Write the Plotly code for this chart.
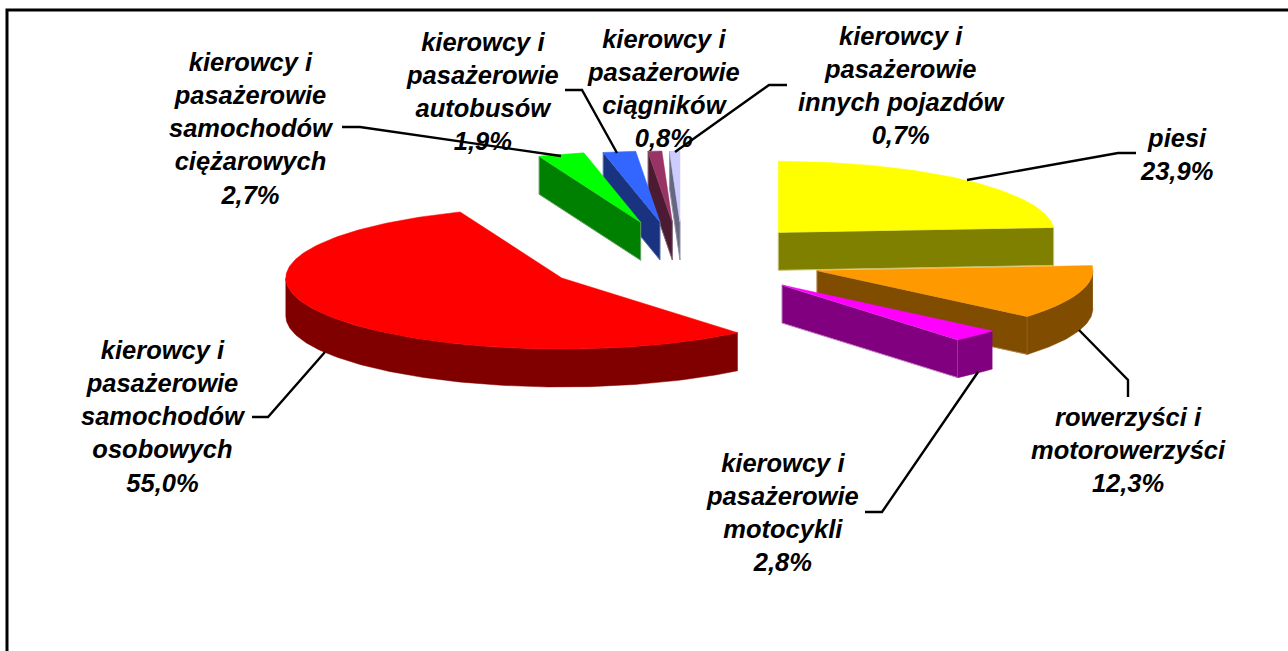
import numpy as np
import plotly.graph_objects as go

# ---- data ----
categories = ["piesi", "rowerzyści i motorowerzyści", "kierowcy i pasażerowie motocykli",
              "kierowcy i pasażerowie samochodów osobowych", "kierowcy i pasażerowie samochodów ciężarowych",
              "kierowcy i pasażerowie autobusów", "kierowcy i pasażerowie ciągników",
              "kierowcy i pasażerowie innych pojazdów"]
values = [23.9, 12.3, 2.8, 55.0, 2.7, 1.9, 0.8, 0.7]
value_labels = ["23,9%", "12,3%", "2,8%", "55,0%", "2,7%", "1,9%", "0,8%", "0,7%"]
label_lines = [
    ["piesi"],
    ["rowerzyści i", "motorowerzyści"],
    ["kierowcy i", "pasażerowie", "motocykli"],
    ["kierowcy i", "pasażerowie", "samochodów", "osobowych"],
    ["kierowcy i", "pasażerowie", "samochodów", "ciężarowych"],
    ["kierowcy i", "pasażerowie", "autobusów"],
    ["kierowcy i", "pasażerowie", "ciągników"],
    ["kierowcy i", "pasażerowie", "innych pojazdów"],
]

# ---- styling / layout constants (pixels of the 1288x651 page) ----
W, H = 1288, 651
RX, RY, DEPTH = 276.0, 71.0, 38.0
top_colors = ["#FFFF00", "#FF9900", "#FF00FF", "#FF0000", "#00FF00", "#3366FF", "#993366", "#CCCCFF"]
side_colors = ["#808000", "#804C00", "#800080", "#800000", "#008000", "#1A3380", "#4D1A33", "#666680"]
edge_colors = ["#C4C47A", "#B08A55", "#C07AC0", "#800000", "#60A060", "#5A70A8", "#806070", "#9090A8"]
apex_x = [778.3, 816.9, 782.0, 561.8, 640.7, 660.0, 672.3, 680.0]
apex_y = [232.3, 270.5, 285.0, 278.0, 222.3, 222.0, 222.0, 222.0]
label_x = [1176, 1128, 782, 163.5, 251.5, 482, 663, 902]
label_y = [154, 450, 512, 416, 128, 91, 88, 85]
draw_order = [7, 6, 5, 4, 0, 3, 1, 2]
leaders = [
    ([1136, 1118, 967], [153, 153, 180]),
    ([1128, 1128, 1079], [397, 380, 330]),
    ([865, 882, 978], [512, 512, 372]),
    ([252, 268, 325], [417, 417, 352]),
    ([342, 360, 561], [127, 127, 156]),
    ([565, 582, 617], [90, 90, 153]),
    ([787, 769, 675], [85, 85, 152]),
]

# the rounded shares add up to 100.1; the pie closes at 100
edges = np.minimum(np.concatenate([[0], np.cumsum(values)]) / 100, 1) * 2 * np.pi


def arc(i, a0, a1):
    t = np.linspace(a0, a1, max(2, int((a1 - a0) * 60)))
    return apex_x[i] + RX * np.sin(t), apex_y[i] - RY * np.cos(t)


fig = go.Figure()


def poly(xs, ys, fill, line=None, name=None):
    fig.add_trace(go.Scatter(
        x=list(xs), y=list(ys), mode="lines", fill="toself", fillcolor=fill,
        line=dict(color=line or fill, width=1 if line else 0.5),
        hoverinfo="text", text=name, showlegend=False))


for i in draw_order:
    a0, a1 = edges[i], edges[i + 1]
    dark, name = side_colors[i], categories[i]
    # outer rim (only its front half can be seen)
    lo, hi = max(a0, np.pi / 2), min(a1, 3 * np.pi / 2)
    # the two cut faces
    for a in (a0, a1):
        ex, ey = apex_x[i] + RX * np.sin(a), apex_y[i] - RY * np.cos(a)
        visible = np.cos(a + (np.pi / 2 if a == a1 else -np.pi / 2)) < 0
        if visible:
            poly([apex_x[i], ex, ex, apex_x[i], apex_x[i]],
                 [apex_y[i], ey, ey + DEPTH, apex_y[i] + DEPTH, apex_y[i]],
                 dark, edge_colors[i], name)
    if lo < hi:
        x, y = arc(i, lo, hi)
        poly(np.r_[x, x[::-1]], np.r_[y, y[::-1] + DEPTH], dark, None, name)
    # top face
    x, y = arc(i, a0, a1)
    poly(np.r_[apex_x[i], x, apex_x[i]], np.r_[apex_y[i], y, apex_y[i]], top_colors[i], None, name)

# frame: only the top and the left edge are visible in the page
fig.add_trace(go.Scatter(x=[7, 7, W], y=[H, 10, 10], mode="lines",
                         line=dict(color="#000000", width=3), hoverinfo="skip", showlegend=False))

for lx, ly in leaders:
    fig.add_trace(go.Scatter(x=lx, y=ly, mode="lines", line=dict(color="#000000", width=2.4),
                             hoverinfo="skip", showlegend=False))

for lines, pct, x, y in zip(label_lines, value_labels, label_x, label_y):
    fig.add_annotation(x=x, y=y, xref="x", yref="y", showarrow=False, align="center",
                       text="<br>".join(f"<b><i>{s}</i></b>" for s in lines + [pct]),
                       font=dict(family="Liberation Sans", size=25.5, color="#000000"))

fig.update_layout(
    width=W, height=H, margin=dict(l=0, r=0, t=0, b=0),
    paper_bgcolor="#FFFFFF", plot_bgcolor="#FFFFFF", showlegend=False,
    xaxis=dict(range=[0, W], visible=False, fixedrange=True),
    yaxis=dict(range=[H, 0], visible=False, fixedrange=True),
)
fig.write_html("out.html", config={"displayModeBar": False},
               post_script="document.body.style.margin='0';document.body.style.overflow='hidden';")
